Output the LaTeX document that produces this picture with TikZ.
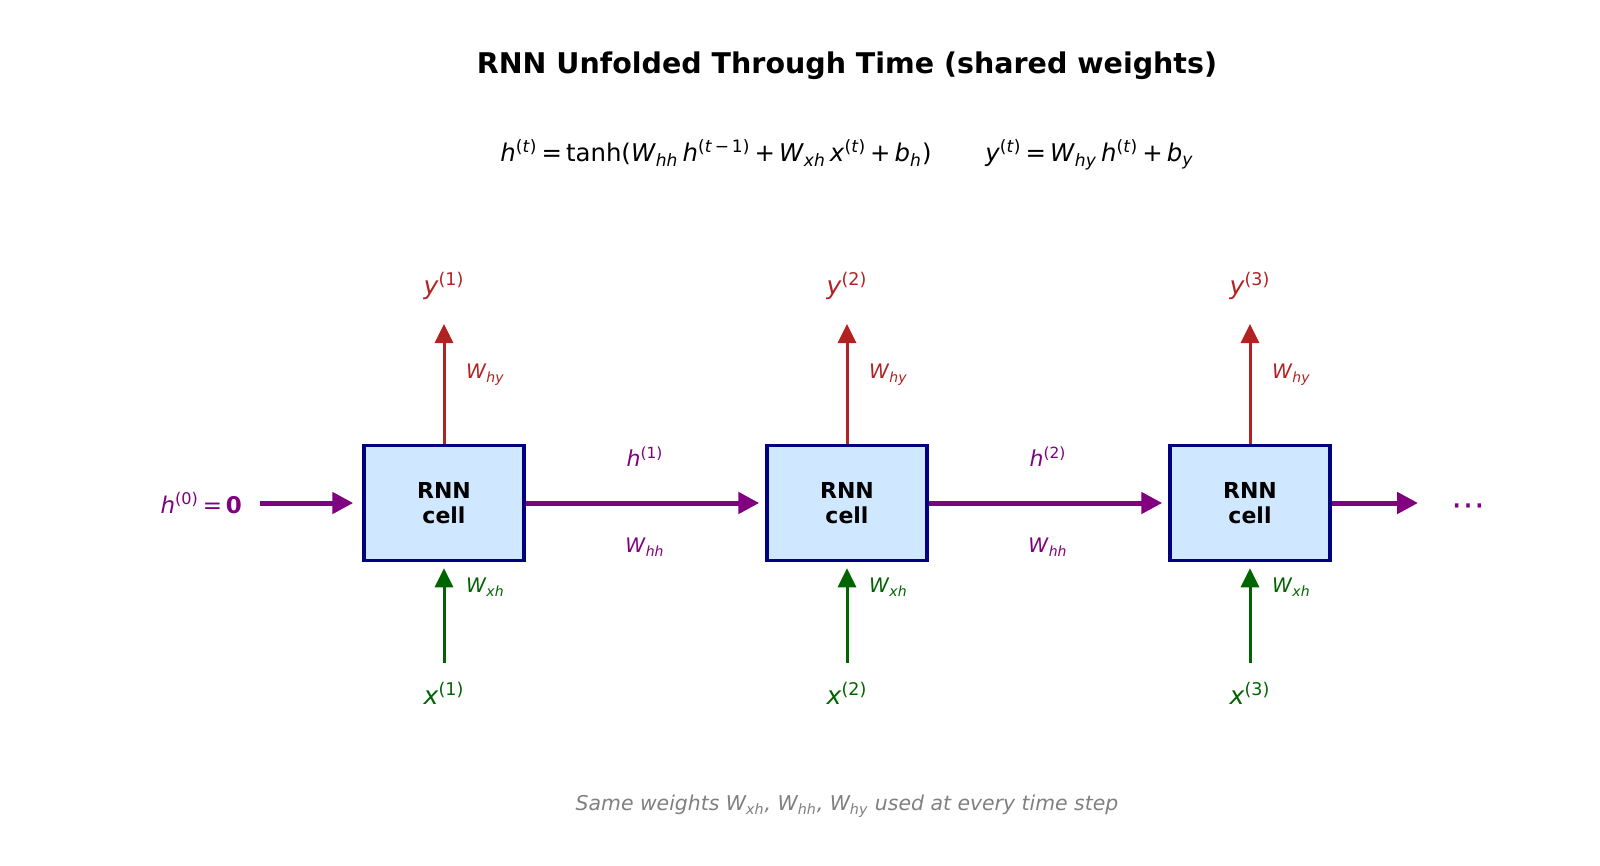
\documentclass[tikz,border=0pt]{standalone}
\usepackage{fontspec}
\setmainfont{DejaVu Sans}
\usetikzlibrary{arrows.meta}

\definecolor{outred}{RGB}{178,34,34}
\definecolor{ingreen}{RGB}{0,100,0}
\definecolor{hidpurple}{RGB}{128,0,128}
\definecolor{cellblue}{RGB}{207,231,255}
\definecolor{celledge}{RGB}{0,0,128}

% italic letter with an upright superscript like (1)
\newcommand{\st}[2]{\textit{#1}\textsuperscript{#2}}
% weight matrix with italic subscript
\newcommand{\wm}[1]{\textit{W}\textsubscript{\textit{#1}}}

\tikzset{
  cell/.style={draw=celledge, line width=1.75pt, fill=cellblue, minimum width=80pt,
    minimum height=57.5pt, align=center, font=\fontsize{11}{12.5}\selectfont\bfseries},
  outarr/.style={outred, line width=1.5pt, -{Triangle[length=9.5pt, width=9pt]}},
  inarr/.style={ingreen, line width=1.5pt, -{Triangle[length=9.5pt, width=9pt]}},
  hidarr/.style={hidpurple, line width=2.5pt, -{Triangle[length=10.5pt, width=10.5pt]}, shorten >=3pt},
  biglabel/.style={font=\fontsize{12.5}{14}\selectfont},
  wlabel/.style={font=\fontsize{10}{12}\selectfont, anchor=west}
}

\begin{document}
\begin{tikzpicture}[x=0.5pt, y=-0.5pt]
    % page frame, in pixels of the reference
    \useasboundingbox[fill=white] (0,0) rectangle (1600,866);

    % Title and the two update rules
    \node (title) at (847,66) {\fontsize{14.25}{17}\selectfont\bfseries RNN Unfolded Through Time (shared weights)};
    \node (rules) at (847,155) {\fontsize{12.2}{14}\selectfont
      \st{h}{(\textit{t})}\,=\,tanh(\wm{hh}\,\st{h}{(\textit{t}\,−\,1)}\,+\,\wm{xh}\,\st{x}{(\textit{t})}\,+\,\textit{b}\textsubscript{\textit{h}})\hspace{2.2em}%
      \st{y}{(\textit{t})}\,=\,\wm{hy}\,\st{h}{(\textit{t})}\,+\,\textit{b}\textsubscript{\textit{y}}};

    % The three copies of the cell
    \node[cell] (c1) at (444,503) {RNN\\cell};
    \node[cell] (c2) at (847,503) {RNN\\cell};
    \node[cell] (c3) at (1250,503) {RNN\\cell};

    % Outputs on top
    \node[biglabel, text=outred] (y1) at (444,286) {\st{y}{(1)}};
    \node[biglabel, text=outred] (y2) at (847,286) {\st{y}{(2)}};
    \node[biglabel, text=outred] (y3) at (1250,286) {\st{y}{(3)}};
    \coordinate (yt1) at (444,324);
    \coordinate (yt2) at (847,324);
    \coordinate (yt3) at (1250,324);
    \draw[outarr] (c1.north) -- (yt1);
    \draw[outarr] (c2.north) -- (yt2);
    \draw[outarr] (c3.north) -- (yt3);
    \node[wlabel, text=outred] (why1) at (459,375) {\wm{hy}};
    \node[wlabel, text=outred] (why2) at (862,375) {\wm{hy}};
    \node[wlabel, text=outred] (why3) at (1265,375) {\wm{hy}};

    % Inputs below
    \node[biglabel, text=ingreen] (x1) at (444,693) {\st{x}{(1)}};
    \node[biglabel, text=ingreen] (x2) at (847,693) {\st{x}{(2)}};
    \node[biglabel, text=ingreen] (x3) at (1250,693) {\st{x}{(3)}};
    \coordinate (xs1) at (444,663);
    \coordinate (xs2) at (847,663);
    \coordinate (xs3) at (1250,663);
    \draw[inarr, shorten >=3pt] (xs1) -- (c1.south);
    \draw[inarr, shorten >=3pt] (xs2) -- (c2.south);
    \draw[inarr, shorten >=3pt] (xs3) -- (c3.south);
    \node[wlabel, text=ingreen] (wxh1) at (459,587) {\wm{xh}};
    \node[wlabel, text=ingreen] (wxh2) at (862,587) {\wm{xh}};
    \node[wlabel, text=ingreen] (wxh3) at (1265,587) {\wm{xh}};

    % Hidden state passed along
    \node[font=\fontsize{11.5}{13}\selectfont, text=hidpurple, anchor=east] (h0) at (249,503) {\st{h}{(0)}\,=\,\textbf{0}};
    \coordinate (hs0) at (260,503);
    \draw[hidarr, shorten >=4.5pt] (hs0) -- (c1.west);
    \draw[hidarr] (c1.east) -- (c2.west);
    \draw[hidarr] (c2.east) -- (c3.west);
    \coordinate (hend) at (1424,503);
    \draw[hidarr] (c3.east) -- (hend);
    \node[font=\fontsize{17}{19}\selectfont, text=hidpurple] (dots) at (1468,510) {⋯};
    \node[font=\fontsize{11}{13}\selectfont, text=hidpurple] (h1) at (645,457) {\st{h}{(1)}};
    \node[font=\fontsize{11}{13}\selectfont, text=hidpurple] (h2) at (1048,457) {\st{h}{(2)}};
    \node[font=\fontsize{10}{12}\selectfont, text=hidpurple] (whh1) at (645,547) {\wm{hh}};
    \node[font=\fontsize{10}{12}\selectfont, text=hidpurple] (whh2) at (1048,547) {\wm{hh}};

    % Footnote
    \node[text=gray, font=\fontsize{10.2}{12}\selectfont\itshape] (note) at (847,806)
      {Same weights \wm{xh}, \wm{hh}, \wm{hy} used at every time step};
\end{tikzpicture}
\end{document}
